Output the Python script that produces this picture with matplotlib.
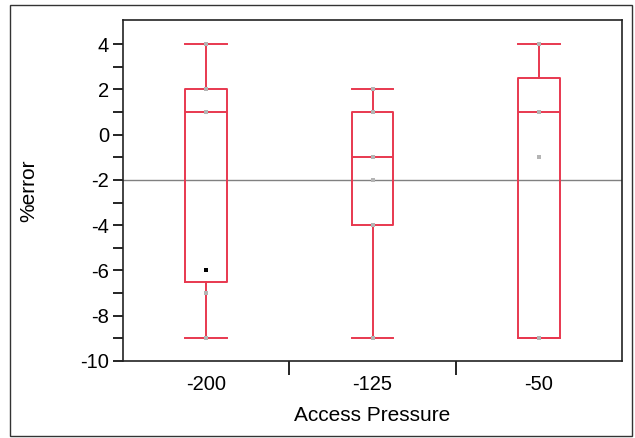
import numpy as np
import matplotlib.pyplot as plt
from matplotlib.patches import Rectangle

plt.rcParams['font.family'] = ['Liberation Sans', 'DejaVu Sans']
plt.rcParams['axes.unicode_minus'] = False

# data
groups = ['-200', '-125', '-50']
whislo = [-9, -9, -9]
q1 = [-6.5, -4, -9]
med = [1, -1, 1]
q3 = [2, 1, 2.5]
whishi = [4, 2, 4]
grand_mean = -2

# individual observations (gray) per group
points = [
    [4, 2, 1, -7, -9],
    [2, 1, -1, -2, -4, -9],
    [4, 1, -1, -9],
]
# highlighted point (black)
hi_group = 0
hi_value = -6

red = '#e8384f'

fig = plt.figure(figsize=(6.35, 4.38), dpi=100)
ax = fig.add_axes([123 / 635, 1 - 361 / 438, 499 / 635, 341 / 438])

stats = []
for i in range(len(groups)):
    stats.append(dict(whislo=whislo[i], q1=q1[i], med=med[i], q3=q3[i],
                      whishi=whishi[i], fliers=[], label=groups[i]))

pos = np.arange(len(groups))
ax.bxp(stats, positions=pos, widths=0.25, showfliers=False,
       boxprops=dict(color=red, lw=1.4),
       whiskerprops=dict(color=red, lw=1.4),
       capprops=dict(color=red, lw=1.4),
       medianprops=dict(color=red, lw=1.4),
       capwidths=0.25)

ax.axhline(grand_mean, color='#808080', lw=1.0, zorder=1)

for i, vals in enumerate(points):
    ax.scatter([pos[i]] * len(vals), vals, s=6, marker='s', color='#b4b4b4',
               lw=0, zorder=3)
ax.scatter([pos[hi_group]], [hi_value], s=8, marker='s', color='black',
           lw=0, zorder=4)

ax.set_xlim(-0.5, len(groups) - 0.5)
ax.set_ylim(-10, 5.06)
ax.set_yticks(np.arange(-10, 5, 2))
ax.set_yticks(np.arange(-9, 5, 2), minor=True)
ax.tick_params(axis='y', which='major', length=7, width=1.2, labelsize=14.5, pad=3)
ax.tick_params(axis='y', which='minor', length=7, width=1.2)

ax.set_xticks(pos)
ax.set_xticklabels(groups)
ax.set_xticks([0.5, 1.5], minor=True)
ax.tick_params(axis='x', which='major', length=0, labelsize=14.5, pad=10)
ax.tick_params(axis='x', which='minor', length=10, width=1.2)

for s in ax.spines.values():
    s.set_linewidth(1.2)
    s.set_color('#222222')

ax.set_xlabel('Access Pressure', fontsize=15, labelpad=9)
ax.set_ylabel('%error', fontsize=15, labelpad=30)

fig.patches.append(Rectangle((10 / 635, 2 / 438), 622 / 635, 431 / 438,
                             transform=fig.transFigure, fill=False,
                             edgecolor='#333333', lw=1.0))

fig.savefig('out.png', dpi=100)
